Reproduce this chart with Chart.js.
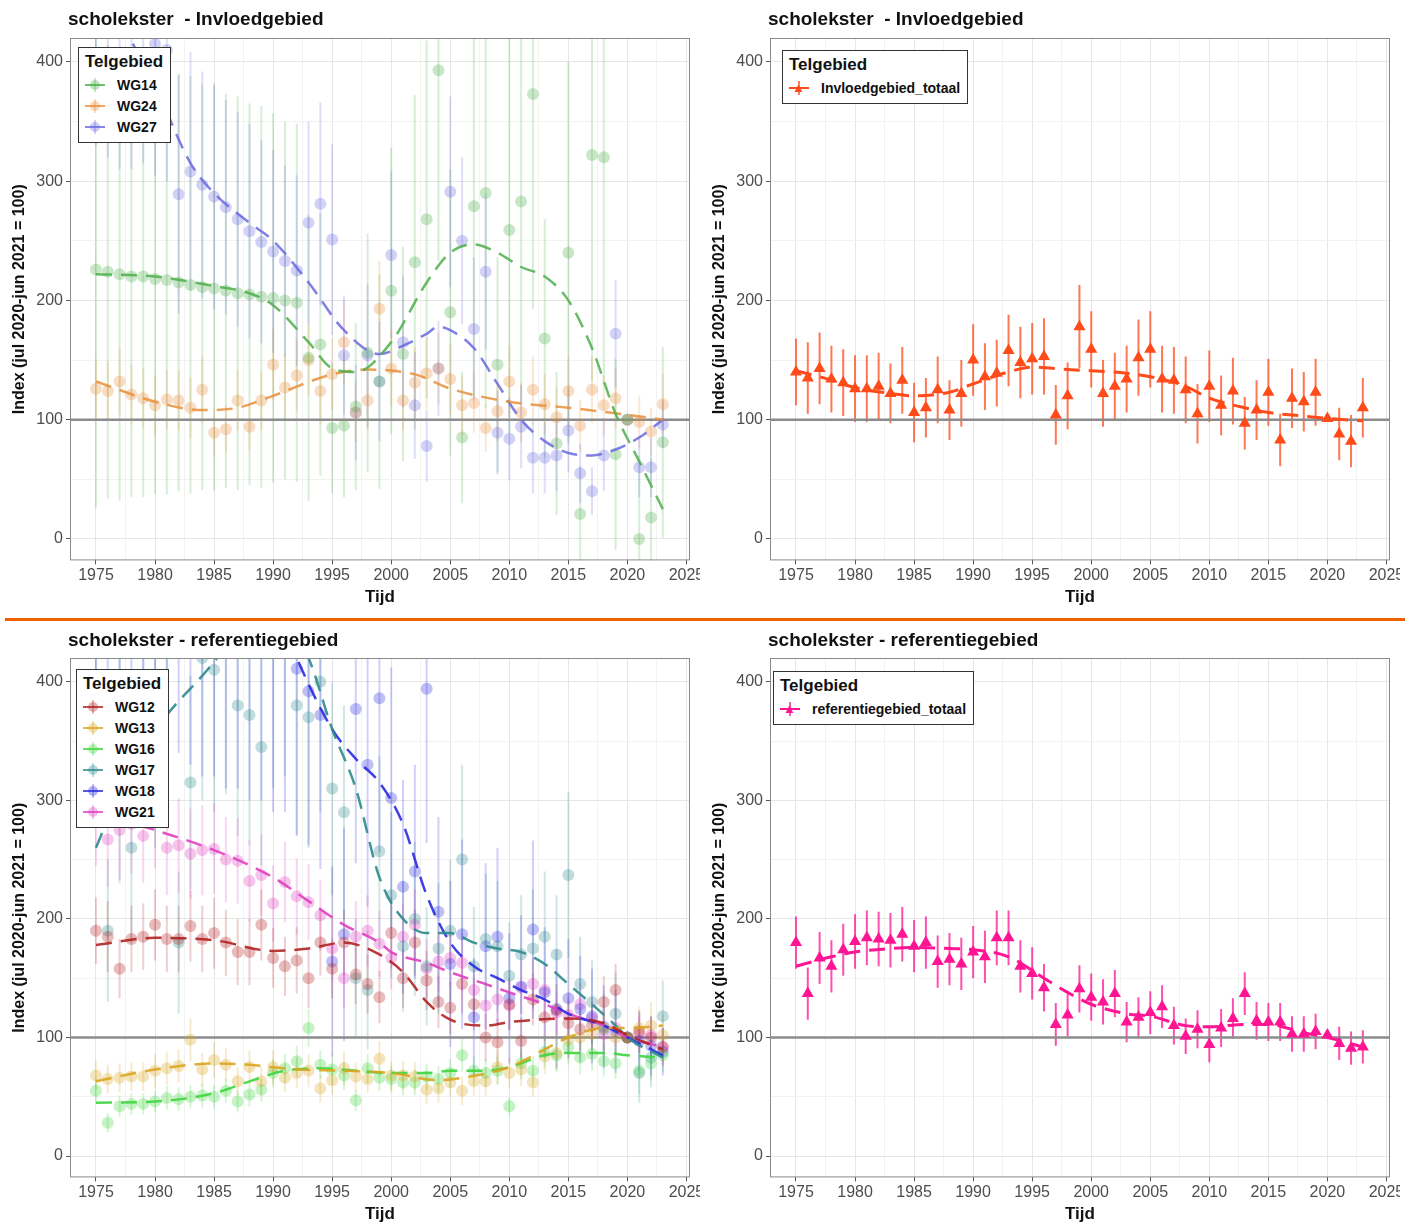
<!DOCTYPE html>
<html>
<head>
<meta charset="utf-8">
<script src="https://cdn.jsdelivr.net/npm/chart.js@4.4.0/dist/chart.umd.min.js"></script>
<style>
  body { margin: 0; background: #fff; font-family: "Liberation Sans", Arial, sans-serif; }
  .panel { position: absolute; overflow: hidden; }
  .ptitle { position: absolute; font-size: 19px; font-weight: bold; color: #111; white-space: pre; }
  .sep { position: absolute; left: 5px; top: 618px; width: 1400px; height: 3px; background: #f06000; }
  .legend { position: absolute; border: 1.5px solid #333; background: #fff; padding: 4px 7px 5px 6px; font-weight: bold; color: #111; }
  .legend .ttl { font-size: 17px; margin-bottom: 2px; }
  .legend .row { font-size: 14px; height: 21px; display: flex; align-items: center; }
  .legend .sym { position: relative; width: 20px; height: 14px; margin-right: 12px; }
  .legend .sym .h { position: absolute; left: 0; top: 6px; width: 20px; height: 2px; }
  .legend .sym .v { position: absolute; left: 9px; top: 0; width: 2px; height: 14px; }
  .legend .sym .d { position: absolute; left: 5px; top: 2px; width: 10px; height: 10px; border-radius: 50%; }
  .legend .sym .t { position: absolute; left: 3px; top: 0px; font-size: 13px; line-height: 13px; }
</style>
</head>
<body>
<div class="panel" style="left:0;top:0;width:700px;height:608px"><canvas id="c1"></canvas></div>
<div class="panel" style="left:700px;top:0;width:700px;height:608px"><canvas id="c2"></canvas></div>
<div class="sep"></div>
<div class="panel" style="left:0;top:625px;width:700px;height:600px"><canvas id="c3"></canvas></div>
<div class="panel" style="left:700px;top:625px;width:700px;height:600px"><canvas id="c4"></canvas></div>
<div class="ptitle" style="left:68px;top:8px">scholekster  - Invloedgebied</div>
<div class="ptitle" style="left:768px;top:8px">scholekster  - Invloedgebied</div>
<div class="ptitle" style="left:68px;top:629px">scholekster - referentiegebied</div>
<div class="ptitle" style="left:768px;top:629px">scholekster - referentiegebied</div>
<div id="leg1" class="legend" style="left:78px;top:47px"></div>
<div id="leg2" class="legend" style="left:782px;top:50px"></div>
<div id="leg3" class="legend" style="left:76px;top:669px"></div>
<div id="leg4" class="legend" style="left:773px;top:671px"></div>
<script>
// ==================== DATA ====================

const years = [1975, 1976, 1977, 1978, 1979, 1980, 1981, 1982, 1983, 1984, 1985, 1986, 1987, 1988, 1989,
    1990, 1991, 1992, 1993, 1994, 1995, 1996, 1997, 1998, 1999, 2000, 2001, 2002, 2003, 2004, 2005, 2006,
    2007, 2008, 2009, 2010, 2011, 2012, 2013, 2014, 2015, 2016, 2017, 2018, 2019, 2020, 2021, 2022, 2023];
const xTicks = [1975, 1980, 1985, 1990, 1995, 2000, 2005, 2010, 2015, 2020, 2025];
const yTicks = [0, 100, 200, 300, 400];

// Invloedgebied
const wg14 = [226, 224, 222, 220, 220, 218, 217, 215, 213, 211, 210, 208, 206, 205, 203, 202, 200, 198, 152, 163,
    93, 95, 111, 156, 132, 208, 155, 232, 268, 393, 190, 85, 279, 290, 146, 259, 283, 373, 168, 80,
    240, 21, 322, 320, 71, 100, 0, 18, 81];
const wg14Err = [200, 190, 190, 185, 185, 180, 180, 175, 175, 170, 170, 165, 165, 160, 160, 155, 150, 150, 120, 110,
    55, 60, 70, 100, 90, 120, 90, 140, 150, 160, 120, 55, 160, 180, 90, 170, 170, 180, 100, 60,
    160, 40, 190, 190, 80, 0, 70, 50, 80];
const wg14TrendX = [1975, 1980, 1985, 1988, 1990, 1993, 1995, 1997, 2000, 2003, 2005, 2007, 2009, 2011, 2013, 2015, 2017, 2019, 2021, 2023];
const wg14TrendY = [222, 220, 212, 206, 196, 165, 143, 140, 165, 215, 240, 247, 240, 228, 220, 200, 160, 105, 65, 25];

const wg24 = [126, 124, 132, 121, 118, 112, 117, 116, 110, 125, 89, 92, 116, 94, 116, 146, 127, 137, 150, 124,
    138, 165, 106, 116, 193, 143, 116, 131, 139, 143, 134, 112, 114, 93, 107, 132, 106, 125, 113, 102,
    124, 95, 125, 112, 118, 100, 98, 90, 113];
const wg24Err = [25, 25, 28, 25, 25, 25, 25, 25, 25, 28, 20, 20, 25, 20, 25, 30, 28, 30, 30, 28,
    30, 35, 25, 25, 40, 32, 25, 30, 30, 30, 30, 25, 25, 20, 25, 30, 25, 28, 25, 25,
    28, 22, 28, 25, 25, 0, 22, 20, 25];
const wg24TrendX = [1975, 1980, 1984, 1987, 1990, 1995, 1998, 2002, 2005, 2010, 2015, 2020, 2023];
const wg24TrendY = [132, 115, 108, 110, 120, 138, 142, 138, 126, 115, 110, 104, 100];

const wg27 = [450, 440, 430, 425, 430, 415, 410, 289, 308, 297, 287, 278, 268, 258, 249, 241, 233, 225, 265, 281,
    251, 154, 106, 154, 132, 238, 165, 112, 78, 143, 291, 250, 176, 224, 89, 84, 94, 68, 68, 70,
    91, 55, 40, 70, 172, 100, 60, 60, 96];
const wg27Err = [120, 120, 120, 115, 115, 110, 110, 100, 100, 95, 95, 90, 90, 90, 85, 85, 80, 80, 85, 85,
    80, 50, 40, 60, 50, 70, 55, 45, 30, 40, 80, 70, 60, 65, 35, 35, 35, 30, 30, 30,
    35, 25, 20, 30, 45, 0, 25, 25, 20];
const wg27TrendX = [1975, 1980, 1983, 1985, 1988, 1990, 1993, 1996, 1999, 2001, 2003, 2004, 2005, 2007, 2009, 2011, 2013, 2015, 2017, 2019, 2021, 2023];
const wg27TrendY = [470, 380, 315, 290, 265, 250, 215, 175, 155, 162, 172, 178, 175, 160, 130, 100, 82, 72, 70, 75, 85, 100];

const invloedTotaal = [140, 135, 143, 134, 131, 126, 126, 128, 122, 133, 106, 110, 125, 108, 122, 150, 136, 139, 158, 148,
    151, 153, 104, 120, 178, 159, 122, 128, 134, 152, 159, 134, 133, 125, 105, 128, 112, 124, 97, 108,
    123, 83, 118, 115, 123, 101, 88, 82, 110];
const invloedTotaalErr = [28, 30, 30, 28, 28, 28, 28, 28, 25, 28, 25, 25, 28, 25, 28, 30, 28, 28, 30, 30,
    30, 32, 25, 28, 35, 32, 28, 28, 28, 32, 32, 28, 28, 28, 25, 30, 25, 28, 22, 25,
    28, 22, 25, 25, 28, 3, 22, 22, 25];
const invloedTrendX = [1975, 1977, 1980, 1983, 1985, 1988, 1990, 1993, 1995, 1998, 2000, 2003, 2005, 2008, 2010, 2013, 2015, 2018, 2020, 2023];
const invloedTrendY = [141, 136, 127, 122, 120, 123, 130, 140, 144, 142, 141, 139, 136, 128, 118, 110, 106, 103, 101, 99];

// Referentiegebied
const wg12 = [190, 185, 158, 183, 185, 195, 183, 183, 194, 183, 188, 180, 172, 172, 195, 167, 160, 165, 150, 180,
    158, 180, 153, 145, 134, 188, 150, 180, 148, 130, 125, 145, 128, 100, 96, 128, 97, 132, 117, 123,
    112, 107, 110, 130, 140, 100, 105, 100, 92];
const wg12Err = [28, 30, 25, 28, 28, 30, 28, 28, 30, 28, 30, 28, 28, 28, 30, 25, 25, 28, 25, 28,
    25, 28, 25, 25, 22, 30, 25, 28, 25, 22, 22, 25, 22, 20, 20, 22, 20, 22, 20, 22,
    20, 18, 20, 22, 22, 0, 18, 18, 16];
const wg12TrendX = [1975, 1980, 1985, 1990, 1993, 1996, 1999, 2001, 2003, 2005, 2008, 2010, 2015, 2018, 2020, 2023];
const wg12TrendY = [178, 184, 182, 173, 175, 180, 170, 155, 130, 115, 110, 113, 116, 112, 102, 90];

const wg13 = [68, 65, 66, 67, 67, 72, 74, 76, 98, 73, 81, 77, 63, 75, 63, 75, 66, 70, 72, 57,
    64, 74, 67, 65, 82, 68, 68, 67, 56, 57, 62, 55, 63, 63, 75, 70, 73, 62, 84, 87,
    98, 100, 103, 108, 100, 100, 108, 110, 102];
const wg13Err = [12, 12, 12, 12, 12, 14, 14, 14, 18, 14, 15, 14, 12, 14, 12, 14, 12, 13, 14, 12,
    12, 14, 12, 12, 15, 12, 12, 12, 12, 12, 12, 12, 12, 12, 14, 13, 14, 12, 15, 15,
    17, 17, 18, 18, 17, 0, 18, 20, 18];
const wg13TrendX = [1975, 1980, 1985, 1988, 1992, 1996, 2000, 2004, 2006, 2010, 2013, 2015, 2018, 2020, 2023];
const wg13TrendY = [63, 73, 78, 77, 73, 72, 70, 64, 66, 75, 90, 100, 108, 108, 110];

const wg16 = [55, 28, 42, 44, 44, 46, 49, 48, 50, 51, 50, 55, 46, 52, 56, 70, 74, 80, 108, 77,
    73, 68, 47, 74, 66, 65, 62, 62, 67, 65, 70, 85, 72, 70, 72, 42, 78, 72, 88, 85,
    92, 83, 86, 80, 78, 100, 72, 78, 85];
const wg16Err = [10, 8, 9, 9, 9, 9, 10, 10, 10, 10, 10, 10, 9, 10, 10, 12, 12, 13, 16, 12,
    12, 12, 9, 12, 11, 11, 11, 11, 11, 11, 12, 14, 12, 12, 12, 8, 13, 12, 14, 14,
    15, 14, 14, 13, 13, 0, 20, 14, 14];
const wg16TrendX = [1975, 1980, 1985, 1988, 1991, 1994, 1997, 2000, 2003, 2005, 2008, 2010, 2013, 2015, 2018, 2020, 2023];
const wg16TrendY = [45, 46, 53, 63, 72, 74, 72, 70, 70, 72, 72, 75, 85, 87, 87, 85, 83];

const wg17 = [440, 190, 330, 260, 390, 370, 430, 180, 315, 420, 410, 425, 380, 372, 345, 430, 440, 380, 370, 400,
    310, 290, 150, 140, 257, 220, 177, 200, 160, 175, 190, 250, 160, 183, 177, 152, 170, 175, 185, 170,
    237, 145, 130, 107, 120, 100, 70, 83, 118];
const wg17Err = [120, 60, 100, 80, 110, 110, 120, 60, 90, 120, 120, 120, 110, 110, 100, 120, 120, 110, 110, 110,
    90, 90, 50, 50, 80, 70, 55, 65, 50, 55, 60, 80, 50, 55, 55, 45, 50, 50, 55, 50,
    70, 40, 35, 30, 35, 0, 25, 25, 30];
const wg17TrendX = [1975, 1978, 1981, 1984, 1987, 1990, 1993, 1995, 1997, 1999, 2001, 2003, 2005, 2007, 2009, 2011, 2013, 2015, 2017, 2019, 2020, 2023];
const wg17TrendY = [260, 330, 372, 405, 440, 470, 420, 360, 310, 235, 200, 188, 188, 180, 175, 172, 162, 145, 128, 110, 100, 83];

const wg18 = [560, 540, 530, 520, 510, 500, 500, 490, 480, 470, 470, 460, 460, 450, 450, 440, 430, 411, 392, 372,
    164, 187, 377, 330, 386, 302, 227, 240, 394, 206, 162, 187, 117, 177, 185, 133, 143, 191, 138, 124,
    133, 124, 118, 109, 105, 100, 97, 93, 88];
const wg18Err = [150, 150, 150, 150, 150, 150, 150, 150, 150, 150, 150, 150, 150, 150, 150, 150, 140, 140, 130, 130,
    80, 90, 130, 120, 130, 110, 90, 90, 130, 80, 70, 80, 50, 70, 75, 55, 60, 75, 55, 50,
    50, 45, 40, 35, 35, 0, 25, 25, 20];
const wg18TrendX = [1975, 1985, 1990, 1992, 1995, 1997, 1999, 2001, 2003, 2005, 2007, 2009, 2011, 2013, 2015, 2018, 2020, 2023];
const wg18TrendY = [650, 560, 470, 420, 360, 335, 315, 280, 220, 180, 160, 150, 140, 132, 120, 110, 100, 85];

const wg21 = [290, 267, 275, 280, 270, 285, 260, 262, 255, 258, 259, 250, 249, 232, 237, 213, 231, 219, 214, 203,
    175, 150, 185, 190, 179, 167, 185, 195, 158, 164, 167, 163, 140, 127, 132, 127, 142, 145, 140, 121,
    119, 128, 116, 103, 108, 100, 103, 102, 92];
const wg21Err = [45, 40, 42, 42, 40, 42, 40, 40, 38, 38, 38, 36, 36, 34, 34, 32, 34, 32, 32, 30,
    28, 25, 30, 30, 28, 26, 28, 30, 25, 25, 25, 25, 22, 20, 20, 20, 22, 22, 22, 18,
    18, 18, 17, 16, 16, 0, 15, 15, 14];
const wg21TrendX = [1975, 1977, 1980, 1985, 1990, 1993, 1996, 1999, 2000, 2003, 2005, 2008, 2010, 2013, 2015, 2018, 2020, 2023];
const wg21TrendY = [300, 285, 275, 258, 235, 215, 195, 180, 172, 163, 155, 145, 138, 128, 120, 110, 100, 92];

const refTotaal = [180, 137, 167, 160, 174, 181, 184, 183, 182, 187, 177, 180, 164, 166, 162, 172, 168, 184, 184, 160,
    154, 142, 111, 119, 141, 134, 130, 137, 113, 117, 121, 126, 110, 101, 107, 94, 108, 116, 137, 114,
    113, 113, 103, 103, 105, 102, 95, 91, 92];
const refTotaalErr = [22, 22, 22, 22, 22, 23, 23, 23, 23, 23, 22, 22, 22, 22, 22, 22, 22, 23, 23, 22,
    22, 20, 18, 18, 20, 20, 19, 20, 17, 17, 18, 18, 16, 15, 16, 15, 16, 17, 18, 16,
    16, 16, 15, 15, 15, 3, 14, 14, 14];
const refTrendX = [1975, 1978, 1980, 1983, 1985, 1988, 1990, 1993, 1996, 1998, 2000, 2003, 2005, 2008, 2010, 2013, 2015, 2018, 2020, 2023];
const refTrendY = [160, 168, 172, 175, 176, 175, 174, 168, 150, 138, 128, 120, 118, 110, 109, 111, 111, 104, 100, 92];

// ==================== HELPERS ====================

function rgba(hex, a) {
    const n = parseInt(hex.slice(1), 16);
    return `rgba(${n >> 16}, ${(n >> 8) & 255}, ${n & 255}, ${a})`;
}

function pointSeries(vals, errs, color, opts) {
    return {
        type: 'scatter',
        data: years.map((y, i) => ({ x: y, y: vals[i] })),
        errs: errs,
        errColor: rgba(color, opts.errAlpha),
        backgroundColor: rgba(color, opts.ptAlpha),
        borderWidth: 0,
        pointStyle: opts.style || 'circle',
        pointRadius: opts.radius,
        order: 2,
    };
}

function trendSeries(tx, ty, color, alpha, width) {
    return {
        type: 'line',
        data: tx.map((x, i) => ({ x: x, y: ty[i] })),
        borderColor: rgba(color, alpha),
        borderWidth: width,
        borderDash: [16, 9],
        cubicInterpolationMode: 'monotone',
        pointRadius: 0,
        fill: false,
        order: 1,
    };
}

const panelPlugin = {
    id: 'panelExtras',
    beforeDatasetsDraw(chart) {
        const ctx = chart.ctx, a = chart.chartArea;
        const xs = chart.scales.x, ys = chart.scales.y;
        ctx.save();
        ctx.beginPath();
        ctx.rect(a.left, a.top, a.right - a.left, a.bottom - a.top);
        ctx.clip();
        chart.data.datasets.forEach(ds => {
            if (!ds.errs) return;
            ctx.strokeStyle = ds.errColor;
            ctx.lineWidth = 2;
            ds.data.forEach((p, i) => {
                const e = ds.errs[i];
                if (!e) return;
                const px = xs.getPixelForValue(p.x);
                ctx.beginPath();
                ctx.moveTo(px, ys.getPixelForValue(p.y - e));
                ctx.lineTo(px, ys.getPixelForValue(p.y + e));
                ctx.stroke();
            });
        });
        const y100 = ys.getPixelForValue(100);
        ctx.strokeStyle = '#8c8c8c';
        ctx.lineWidth = 2.5;
        ctx.beginPath();
        ctx.moveTo(a.left, y100);
        ctx.lineTo(a.right, y100);
        ctx.stroke();
        ctx.restore();
    },
    afterDraw(chart) {
        const ctx = chart.ctx, a = chart.chartArea;
        ctx.save();
        ctx.strokeStyle = '#8a8a8a';
        ctx.lineWidth = 1;
        ctx.strokeRect(a.left + 0.5, a.top + 0.5, a.right - a.left - 1, a.bottom - a.top - 1);
        ctx.restore();
    }
};

function makePanel(id, datasets, padTop) {
    const font = { family: '"Liberation Sans", Arial, sans-serif' };
    return new Chart(document.getElementById(id), {
        data: { datasets: datasets },
        plugins: [panelPlugin],
        options: {
            responsive: true,
            maintainAspectRatio: false,
            animation: false,
            layout: { padding: { left: 6, right: 10, top: padTop, bottom: 0 } },
            plugins: {
                legend: { display: false },
                tooltip: { enabled: false },
                title: { display: false }
            },
            scales: {
                x: {
                    type: 'linear', min: 1972.8, max: 2025.3,
                    afterBuildTicks: s => { s.ticks = [1975, 1977.5, 1980, 1982.5, 1985, 1987.5, 1990, 1992.5, 1995, 1997.5, 2000, 2002.5, 2005, 2007.5, 2010, 2012.5, 2015, 2017.5, 2020, 2022.5, 2025].map(v => ({ value: v })); },
                    afterFit: s => { s.paddingRight = 0; },
                    ticks: {
                        autoSkip: false, maxRotation: 0, color: '#4d4d4d', font: { ...font, size: 16 }, padding: 2,
                        callback: v => xTicks.includes(v) ? String(v) : ''
                    },
                    grid: {
                        color: c => xTicks.includes(c.tick.value) ? '#e6e6e6' : '#f2f2f2',
                        tickLength: 4, tickColor: c => xTicks.includes(c.tick.value) ? '#555' : 'rgba(0,0,0,0)'
                    },
                    border: { display: false },
                    title: { display: true, text: 'Tijd', color: '#111', font: { ...font, size: 17, weight: 'bold' }, padding: { top: 0, bottom: 0 } }
                },
                y: {
                    min: -18, max: 420,
                    afterBuildTicks: s => { s.ticks = [0, 50, 100, 150, 200, 250, 300, 350, 400].map(v => ({ value: v })); },
                    afterFit: s => { s.width = 64; },
                    ticks: {
                        color: '#4d4d4d', font: { ...font, size: 16 }, padding: 3,
                        callback: v => yTicks.includes(v) ? String(v) : ''
                    },
                    grid: {
                        color: c => yTicks.includes(c.tick.value) ? '#e6e6e6' : '#f2f2f2',
                        tickLength: 4, tickColor: c => yTicks.includes(c.tick.value) ? '#555' : 'rgba(0,0,0,0)'
                    },
                    border: { display: false },
                    title: { display: true, text: 'Index (jul 2020-jun 2021 = 100)', color: '#111', font: { ...font, size: 16, weight: 'bold' }, padding: { bottom: 2 } }
                }
            }
        }
    });
}

function buildLegend(id, items, tri) {
    const el = document.getElementById(id);
    let html = '<div class="ttl">Telgebied</div>';
    items.forEach(([name, color]) => {
        const mark = tri
            ? `<span class="t" style="color:${color}">&#9650;</span>`
            : `<span class="d" style="background:${rgba(color, 0.35)}"></span>`;
        html += `<div class="row"><span class="sym"><span class="h" style="background:${rgba(color, tri ? 1 : 0.8)}"></span>` +
            `<span class="v" style="background:${rgba(color, tri ? 0.7 : 0.3)}"></span>${mark}</span>${name}</div>`;
    });
    el.innerHTML = html;
}

// ==================== SETUP CHARTS ====================

const C = {
    wg14: '#4daf4a', wg24: '#e8903a', wg27: '#6a6ae0', invloed: '#ff4a1a',
    wg12: '#b22222', wg13: '#daa520', wg16: '#3ed63e', wg17: '#2e8b8b', wg18: '#2b2be0', wg21: '#e040c0', ref: '#ff1493'
};
const multi = { ptAlpha: 0.3, errAlpha: 0.22, radius: 6 };
const tot = { ptAlpha: 1, errAlpha: 0.75, radius: 7, style: 'triangle' };

makePanel('c1', [
    pointSeries(wg14, wg14Err, C.wg14, multi), pointSeries(wg24, wg24Err, C.wg24, multi), pointSeries(wg27, wg27Err, C.wg27, multi),
    trendSeries(wg14TrendX, wg14TrendY, C.wg14, 0.85, 2.5), trendSeries(wg24TrendX, wg24TrendY, C.wg24, 0.85, 2.5), trendSeries(wg27TrendX, wg27TrendY, C.wg27, 0.85, 2.5)
], 38);
makePanel('c2', [
    pointSeries(invloedTotaal, invloedTotaalErr, C.invloed, tot),
    trendSeries(invloedTrendX, invloedTrendY, C.invloed, 1, 3)
], 38);
makePanel('c3', [
    pointSeries(wg12, wg12Err, C.wg12, multi), pointSeries(wg13, wg13Err, C.wg13, multi), pointSeries(wg16, wg16Err, C.wg16, multi),
    pointSeries(wg17, wg17Err, C.wg17, multi), pointSeries(wg18, wg18Err, C.wg18, multi), pointSeries(wg21, wg21Err, C.wg21, multi),
    trendSeries(wg12TrendX, wg12TrendY, C.wg12, 0.9, 2.5), trendSeries(wg13TrendX, wg13TrendY, C.wg13, 0.9, 2.5),
    trendSeries(wg16TrendX, wg16TrendY, C.wg16, 0.9, 2.5), trendSeries(wg17TrendX, wg17TrendY, C.wg17, 0.9, 2.5),
    trendSeries(wg18TrendX, wg18TrendY, C.wg18, 0.9, 2.5), trendSeries(wg21TrendX, wg21TrendY, C.wg21, 0.9, 2.5)
], 33);
makePanel('c4', [
    pointSeries(refTotaal, refTotaalErr, C.ref, tot),
    trendSeries(refTrendX, refTrendY, C.ref, 1, 3)
], 33);

buildLegend('leg1', [['WG14', C.wg14], ['WG24', C.wg24], ['WG27', C.wg27]], false);
buildLegend('leg2', [['Invloedgebied_totaal', C.invloed]], true);
buildLegend('leg3', [['WG12', C.wg12], ['WG13', C.wg13], ['WG16', C.wg16], ['WG17', C.wg17], ['WG18', C.wg18], ['WG21', C.wg21]], false);
buildLegend('leg4', [['referentiegebied_totaal', C.ref]], true);
</script>
</body>
</html>
